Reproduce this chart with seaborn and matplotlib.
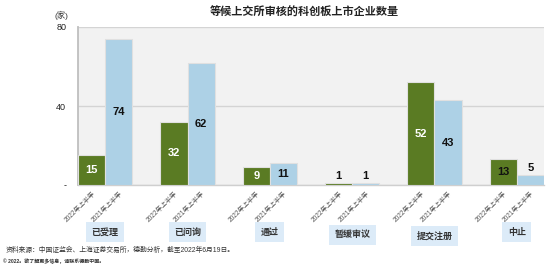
import matplotlib
matplotlib.use("Agg")
import matplotlib.pyplot as plt
import matplotlib.transforms as mtransforms
import seaborn as sns
import pandas as pd

# ---- data ----
categories = ["已受理", "已问询", "通过", "暂缓审议", "提交注册", "中止"]
series_names = ["2022年上半年", "2021年上半年"]
values_2022 = [15, 32, 9, 1, 52, 13]
values_2021 = [74, 62, 11, 1, 43, 5]
label_colors_2022 = ["white", "white", "white", "#111111", "white", "#111111"]
label_colors_2021 = ["#111111"] * 6
title = "等候上交所审核的科创板上市企业数量"
unit_label = "(家)"
ytick_values = [0, 40, 80]
ytick_labels = ["-", "40", "80"]
source_text = "资料来源：中国证监会、上海证券交易所，德勤分析，截至2022年6月19日。"
copyright_text = "© 2022。欲了解更多信息，请联系德勤中国。"

df = pd.DataFrame({
    "category": categories * 2,
    "series": [series_names[0]] * len(categories) + [series_names[1]] * len(categories),
    "value": values_2022 + values_2021,
})

sns.set_theme(style="white")
plt.rcParams["font.family"] = ["Liberation Sans", "Noto Sans CJK SC", "DejaVu Sans"]

W, H = 553, 269
fig = plt.figure(figsize=(W / 100, H / 100), dpi=100)
ax = fig.add_axes([78 / W, 1 - 185 / H, (544 - 78) / W, (185 - 27) / H])
ax.set_facecolor("#f2f2f2")

green = "#5e8a14"
blue = "#a4d3ef"
sns.barplot(data=df, x="category", y="value", hue="series", order=categories,
            hue_order=series_names, palette=[green, blue], width=0.66,
            edgecolor="#e0e0e0", linewidth=0.8, legend=False, ax=ax, zorder=3)

ax.set_xlim(-0.33, len(categories) - 1 + 0.33)
ax.set_ylim(0, 80)
ax.set_yticks(ytick_values)
ax.set_yticklabels(ytick_labels, fontsize=6.5, color="#222222")
ax.set_xlabel("")
ax.set_ylabel("")
ax.grid(axis="y", color="#d4d4d4", linewidth=1.0, zorder=0)
ax.set_axisbelow(True)
for s in ["top", "right"]:
    ax.spines[s].set_visible(False)
ax.spines["left"].set_color("#bfbfbf")
ax.spines["left"].set_linewidth(1.3)
ax.spines["bottom"].set_color("#cfcfcf")
ax.spines["bottom"].set_linewidth(1.0)
ax.tick_params(axis="y", length=2.5, width=0.8, color="#bfbfbf", pad=6)

# bars: first n are 2022, next n are 2021
patches = [p for p in ax.patches]
n = len(categories)
bars_2022 = patches[:n]
bars_2021 = patches[n:2 * n]

# value labels
for bars, vals, cols in [(bars_2022, values_2022, label_colors_2022),
                         (bars_2021, values_2021, label_colors_2021)]:
    for p, v, c in zip(bars, vals, cols):
        xc = p.get_x() + p.get_width() / 2
        if v >= 8:
            ax.text(xc, v / 2, str(v), ha="center", va="center", fontsize=8,
                    fontweight="bold", color=c, zorder=5)
        else:
            ax.text(xc, v + 1.0, str(v), ha="center", va="bottom", fontsize=8,
                    fontweight="bold", color="#111111", zorder=5)

# x tick labels per bar
tick_pos = []
tick_lab = []
for i in range(n):
    for bars, name in [(bars_2022, series_names[0]), (bars_2021, series_names[1])]:
        p = bars[i]
        tick_pos.append(p.get_x() + p.get_width() / 2)
        tick_lab.append(name)
ax.set_xticks(tick_pos)
ax.set_xticklabels(tick_lab, rotation=45, ha="right", rotation_mode="anchor",
                   fontsize=4.7, color="#555555")
ax.tick_params(axis="x", length=0, pad=4)

# category boxes
box_y = [-0.30, -0.30, -0.30, -0.315, -0.325, -0.30]
trans = mtransforms.blended_transform_factory(ax.transData, ax.transAxes)
for i, (cat, yy) in enumerate(zip(categories, box_y)):
    ax.text(i, yy, cat, transform=trans, ha="center", va="center", fontsize=6.5,
            fontweight="bold", color="#333333",
            bbox=dict(boxstyle="square,pad=0.6", facecolor="#dcebf8", edgecolor="none"),
            clip_on=False, zorder=6)

# title & texts
fig.text(304 / W, 1 - 12 / H, title, ha="center", va="center", fontsize=8,
         fontweight="bold", color="#222222")
fig.text(68 / W, 1 - 15 / H, unit_label, ha="right", va="center", fontsize=6,
         color="#333333")
fig.text(6 / W, 1 - 250 / H, source_text, ha="left", va="center", fontsize=4.9,
         color="#333333")
fig.text(3 / W, 1 - 261 / H, copyright_text, ha="left", va="center", fontsize=3.6,
         fontweight="bold", color="#333333")

fig.savefig("out.png", dpi=100, facecolor="white")
